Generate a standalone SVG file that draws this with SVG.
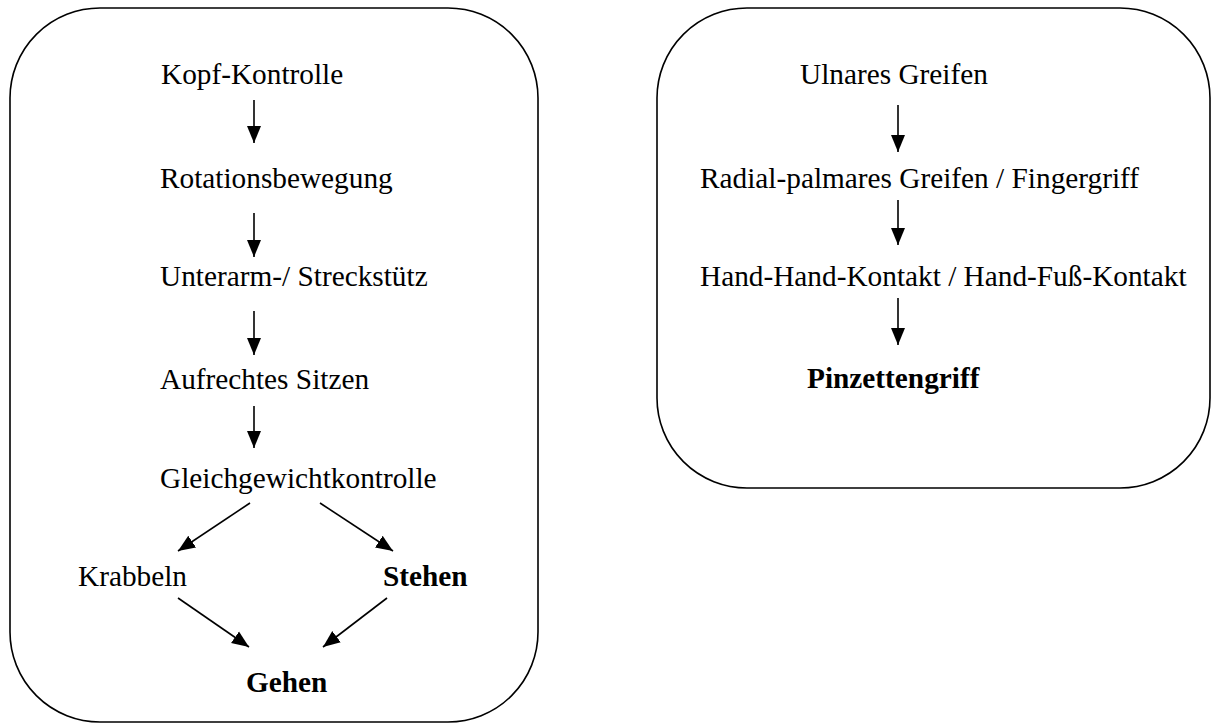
<svg xmlns="http://www.w3.org/2000/svg" width="1211" height="726" viewBox="0 0 1211 726">
<style>
.box{fill:none;stroke:#000;stroke-width:1.6}
.t{font-family:'Liberation Serif','Times New Roman',Times,serif;font-size:29.3px;font-weight:normal;fill:#000}
.b{font-weight:bold}
.c{stroke:#000;stroke-width:1.6;fill:none;marker-end:url(#ah)}
</style>
<defs>
<marker id="ah" markerUnits="userSpaceOnUse" markerWidth="18" markerHeight="16" refX="17" refY="8" orient="auto">
<path d="M0,1 L17,8 L0,15 Z" fill="#000"/>
</marker>
</defs>
<g id="left-panel">
<rect class="box" x="10" y="8" width="528" height="714" rx="90" ry="90"/>
</g>
<g id="right-panel">
<rect class="box" x="657" y="8" width="553" height="480" rx="90" ry="90"/>
</g>
<g id="n-kopf"><text class="t" x="161" y="84">Kopf-Kontrolle</text></g>
<g id="n-rotation"><text class="t" x="160" y="188">Rotationsbewegung</text></g>
<g id="n-unterarm"><text class="t" x="160" y="286">Unterarm-/ Streckstütz</text></g>
<g id="n-sitzen"><text class="t" x="160" y="389">Aufrechtes Sitzen</text></g>
<g id="n-gleich"><text class="t" x="160" y="488">Gleichgewichtkontrolle</text></g>
<g id="n-krabbeln"><text class="t" x="78" y="586">Krabbeln</text></g>
<g id="n-stehen"><text class="t b" x="383" y="586">Stehen</text></g>
<g id="n-gehen"><text class="t b" x="246" y="692">Gehen</text></g>
<g id="n-ulnar"><text class="t" x="800" y="84">Ulnares Greifen</text></g>
<g id="n-radial"><text class="t" x="700" y="188">Radial-palmares Greifen / Fingergriff</text></g>
<g id="n-hand"><text class="t" x="700" y="286">Hand-Hand-Kontakt / Hand-Fuß-Kontakt</text></g>
<g id="n-pinzette"><text class="t b" x="807" y="388">Pinzettengriff</text></g>
<g id="connectors">
<line class="c" x1="254" y1="100" x2="254" y2="143"/>
<line class="c" x1="254" y1="213" x2="254" y2="257"/>
<line class="c" x1="254" y1="311" x2="254" y2="355"/>
<line class="c" x1="254" y1="406" x2="254" y2="448"/>
<line class="c" x1="250" y1="503" x2="178" y2="551"/>
<line class="c" x1="320" y1="503" x2="393" y2="551"/>
<line class="c" x1="178" y1="598" x2="249" y2="647"/>
<line class="c" x1="387" y1="598" x2="323" y2="647"/>
<line class="c" x1="898" y1="105" x2="898" y2="152"/>
<line class="c" x1="898" y1="200" x2="898" y2="245"/>
<line class="c" x1="898" y1="298" x2="898" y2="345"/>
</g>
</svg>
